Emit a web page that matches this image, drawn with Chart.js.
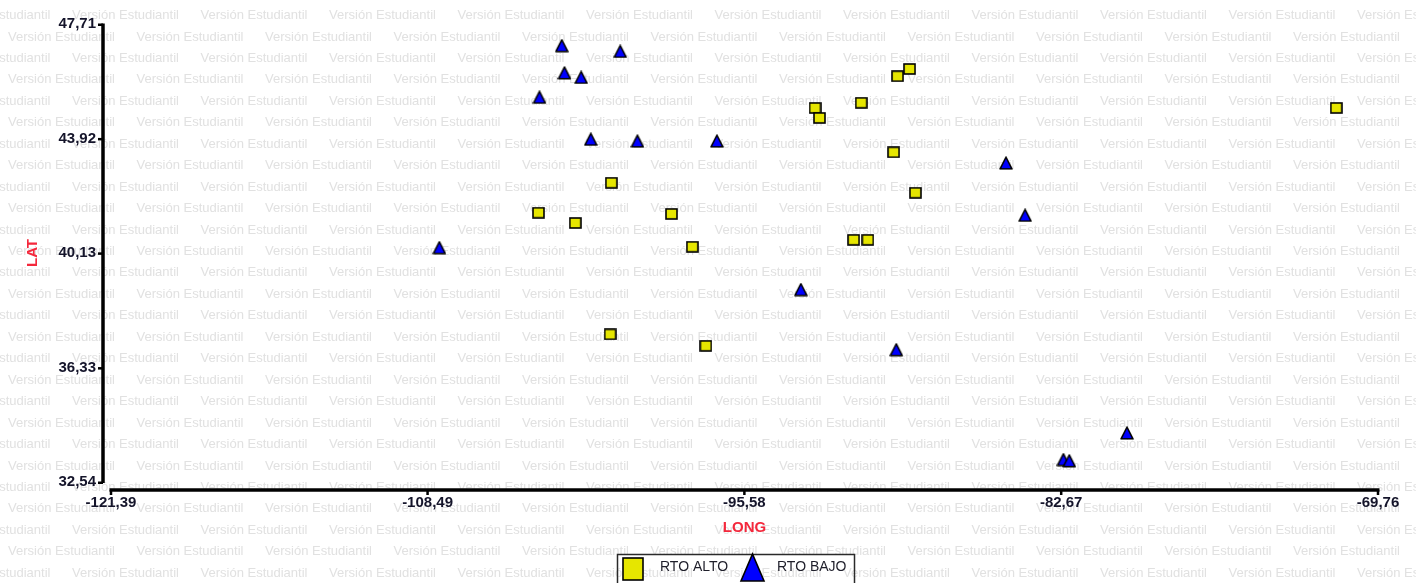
<!DOCTYPE html>
<html>
<head>
<meta charset="utf-8">
<title>LAT / LONG</title>
<script src="https://cdn.jsdelivr.net/npm/chart.js@4/dist/chart.umd.min.js"></script>
<style>
  html, body { margin: 0; padding: 0; background: #fff; overflow: hidden; }
  #wrap { width: 1416px; height: 583px; position: relative; }
</style>
</head>
<body>
<div id="wrap"><canvas id="c" width="1416" height="583"></canvas></div>
<script>
// Series names
const seriesNames = ['RTO ALTO', 'RTO BAJO'];

// RTO ALTO: longitude / latitude
const altoLong = [-92.70, -92.52, -90.82, -89.34, -88.85, -71.46, -89.50, -88.61, -101.00,
                  -103.97, -102.47, -98.55, -97.70, -91.13, -90.55, -101.05, -97.15];
const altoLat  = [44.93, 44.60, 45.10, 45.98, 46.22, 44.93, 43.46, 42.12, 42.45,
                  41.46, 41.12, 41.42, 40.33, 40.56, 40.56, 37.43, 37.05];

// RTO BAJO: longitude / latitude
const bajoLong = [-103.02, -100.64, -102.91, -102.23, -103.93, -101.84, -99.94, -96.70,
                  -84.92, -84.14, -108.01, -93.28, -89.39, -79.99, -82.58, -82.34];
const bajoLat  = [46.99, 46.80, 46.09, 45.94, 45.28, 43.89, 43.83, 43.83,
                  43.10, 41.37, 40.30, 38.91, 36.92, 34.16, 33.28, 33.24];

// Axis tick values
const longTicks = [-121.39, -108.49, -95.58, -82.67, -69.76];
const latTicks  = [32.54, 36.33, 40.13, 43.92, 47.71];

const axisTitles = { x: 'LONG', y: 'LAT' };
const watermarkText = 'Versión Estudiantil';

const YELLOW = '#e6e600';
const BLUE = '#0000ff';

// Marker glyphs drawn once onto small canvases
function makeSquare(w, h) {
  const c = document.createElement('canvas');
  c.width = w; c.height = h;
  const g = c.getContext('2d');
  g.fillStyle = YELLOW;
  g.fillRect(1, 1, w - 2, h - 2);
  g.strokeStyle = '#000';
  g.lineWidth = 1.6;
  g.strokeRect(1, 1, w - 2, h - 2);
  return c;
}
function makeTriangle(w, h) {
  const c = document.createElement('canvas');
  c.width = w; c.height = h;
  const g = c.getContext('2d');
  g.beginPath();
  g.moveTo(w / 2, 1);
  g.lineTo(w - 1, h - 1.2);
  g.lineTo(1, h - 1.2);
  g.closePath();
  g.fillStyle = BLUE;
  g.fill();
  g.strokeStyle = '#000';
  g.lineWidth = 1.6;
  g.lineJoin = 'round';
  g.stroke();
  return c;
}

const fmt = v => Number(v).toFixed(2).replace('.', ',');
const pairs = (xs, ys) => xs.map((x, i) => ({ x: x, y: ys[i] }));

// Light repeated watermark behind everything
const watermark = {
  id: 'watermark',
  beforeDraw(chart) {
    const ctx = chart.ctx;
    ctx.save();
    ctx.fillStyle = '#fff';
    ctx.fillRect(0, 0, chart.width, chart.height);
    ctx.font = '13px "Liberation Sans", Arial, sans-serif';
    ctx.fillStyle = '#e1e1e1';
    ctx.textBaseline = 'middle';
    ctx.textAlign = 'left';
    const period = 128.5;
    for (let r = 0; r < 28; r++) {
      const y = 15.5 + r * 21.45;
      let x = (r % 2 === 0) ? 72 - period : 8;
      for (; x < chart.width; x += period) ctx.fillText(watermarkText, x, y);
    }
    ctx.restore();
  }
};

// Detached axis lines with short tick nubs
const axisLines = {
  id: 'axisLines',
  beforeDatasetsDraw(chart) {
    const { ctx, chartArea } = chart;
    const xs = chart.scales.x, ys = chart.scales.y;
    const ax = chartArea.left - 8;
    const ay = chartArea.bottom + 8;
    ctx.save();
    ctx.strokeStyle = '#000';
    ctx.fillStyle = '#000';
    ctx.lineWidth = 3.5;
    ctx.beginPath();
    ctx.moveTo(ax, ys.getPixelForValue(latTicks[latTicks.length - 1]) - 0.5);
    ctx.lineTo(ax, ys.getPixelForValue(latTicks[0]) + 1);
    ctx.stroke();
    latTicks.forEach(v => {
      const py = ys.getPixelForValue(v);
      ctx.fillRect(ax - 5, py - 0.5, 5, 2.5);
    });
    ctx.beginPath();
    ctx.moveTo(xs.getPixelForValue(longTicks[0]) - 1.5, ay);
    ctx.lineTo(xs.getPixelForValue(longTicks[longTicks.length - 1]) + 1.5, ay);
    ctx.stroke();
    longTicks.forEach(v => {
      const px = xs.getPixelForValue(v);
      ctx.fillRect(px - 1.25, ay, 2.5, 5);
    });
    ctx.restore();
  }
};

// Boxed legend at the bottom
const boxLegend = {
  id: 'boxLegend',
  afterDraw(chart) {
    const ctx = chart.ctx;
    const ds = chart.data.datasets;
    ctx.save();
    ctx.strokeStyle = '#2a2a2a';
    ctx.lineWidth = 1.5;
    ctx.strokeRect(617.5, 554.5, 237, 40);
    // square item
    ctx.fillStyle = YELLOW;
    ctx.fillRect(623, 558, 20, 22);
    ctx.strokeStyle = '#000';
    ctx.lineWidth = 1.6;
    ctx.strokeRect(623, 558, 20, 22);
    // triangle item
    ctx.beginPath();
    ctx.moveTo(752.5, 554);
    ctx.lineTo(764, 581);
    ctx.lineTo(741, 581);
    ctx.closePath();
    ctx.fillStyle = BLUE;
    ctx.fill();
    ctx.stroke();
    ctx.font = '14px "Liberation Sans", Arial, sans-serif';
    ctx.fillStyle = '#1e1e2a';
    ctx.textBaseline = 'middle';
    ctx.textAlign = 'left';
    ctx.fillText(ds[0].label, 660, 567);
    ctx.fillText(ds[1].label, 777, 567);
    ctx.restore();
  }
};

const tickFont = { family: '"Liberation Sans", Arial, sans-serif', size: 15, weight: 'bold' };
const titleFont = { family: '"Liberation Sans", Arial, sans-serif', size: 15, weight: 'bold' };

new Chart(document.getElementById('c'), {
  type: 'scatter',
  data: {
    datasets: [
      {
        label: seriesNames[0],
        data: pairs(altoLong, altoLat),
        pointStyle: makeSquare(13, 12),
        pointRadius: 7,
        pointHoverRadius: 7
      },
      {
        label: seriesNames[1],
        data: pairs(bajoLong, bajoLat),
        pointStyle: makeTriangle(14, 14),
        pointRadius: 7,
        pointHoverRadius: 7
      }
    ]
  },
  options: {
    responsive: false,
    animation: false,
    devicePixelRatio: 1,
    layout: { padding: { left: 11, top: 23, right: 38, bottom: 0 } },
    plugins: {
      legend: { display: false },
      tooltip: { enabled: false }
    },
    scales: {
      x: {
        type: 'linear',
        min: longTicks[0],
        max: longTicks[longTicks.length - 1],
        grid: { display: false, drawTicks: false },
        border: { display: false },
        afterBuildTicks: s => { s.ticks = longTicks.map(v => ({ value: v })); },
        afterFit: s => { s.height = 101; },
        ticks: {
          autoSkip: false, maxRotation: 0, padding: 12,
          color: '#14142a', font: tickFont,
          callback: v => fmt(v)
        },
        title: {
          display: true, text: axisTitles.x, color: '#f4283c', font: titleFont,
          padding: { top: 0, bottom: 46 }
        }
      },
      y: {
        type: 'linear',
        min: latTicks[0],
        max: latTicks[latTicks.length - 1],
        grid: { display: false, drawTicks: false },
        border: { display: false },
        afterBuildTicks: s => { s.ticks = latTicks.map(v => ({ value: v })); },
        afterFit: s => { s.width = 100; },
        ticks: {
          autoSkip: false, padding: 15,
          color: '#14142a', font: tickFont,
          callback: v => fmt(v)
        },
        title: {
          display: true, text: axisTitles.y, color: '#f4283c', font: titleFont,
          padding: { top: 13, bottom: 0 }
        }
      }
    }
  },
  plugins: [watermark, axisLines, boxLegend]
});
</script>
</body>
</html>
